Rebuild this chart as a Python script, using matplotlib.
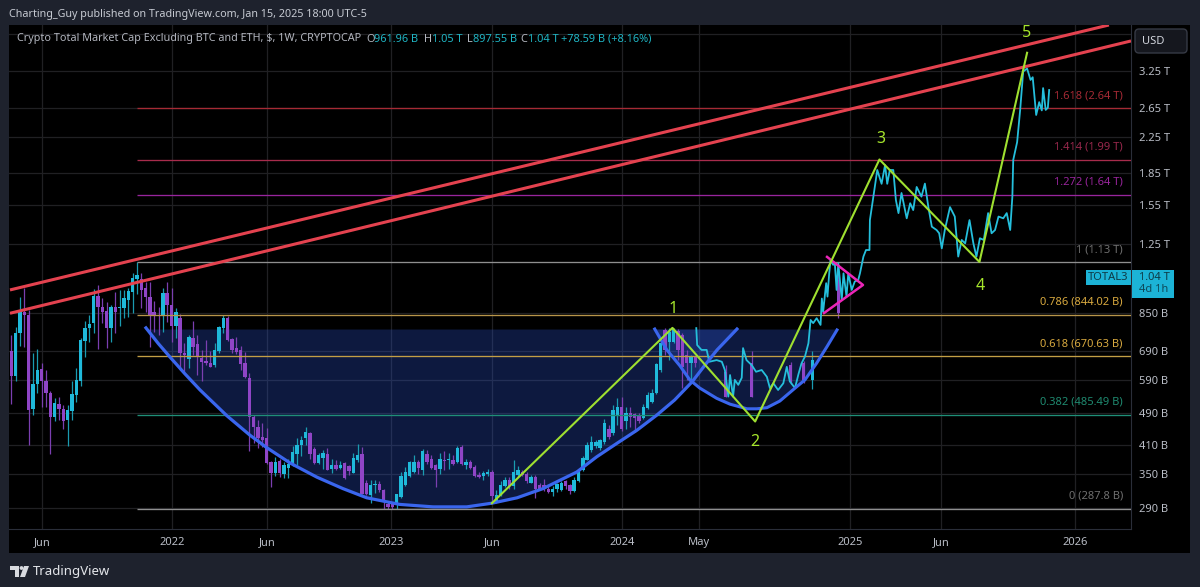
import matplotlib
matplotlib.use("Agg")
import numpy as np
import matplotlib.pyplot as plt
from matplotlib.patches import Rectangle, FancyBboxPatch, Circle, Polygon
from matplotlib.transforms import IdentityTransform

plt.rcParams['font.family'] = ['Noto Sans', 'DejaVu Sans']

# ==========================================
# DATA (weekly candles, values in billions)
# ==========================================
opens = [691,603,761,858,843,502,575,625,586,547,
         481,516,502,472,496,542,586,730,783,806,
         938,882,861,786,882,877,874,915,959,1027,
         1029,977,933,858,843,843,954,889,795,828,
         682,660,741,718,663,653,648,639,689,785,
         829,738,703,695,646,596,480,454,429,427,
         374,352,376,350,361,367,392,411,428,439,
         403,372,383,392,359,369,361,372,365,353,
         379,392,333,311,329,331,321,297,297,295,
         308,329,346,354,374,358,390,381,367,359,
         379,378,378,374,407,367,374,364,348,346,
         351,354,300,311,327,339,327,348,354,351,
         334,345,329,329,323,317,322,320,336,329,
         319,337,358,379,400,409,404,418,450,438,
         485,507,468,490,488,485,476,504,522,547,
         622,776,727,727,773,755,676,645,668]
highs = [755,790,933,977,866,682,698,648,622,554,
         534,537,513,513,584,630,741,817,843,972,
         995,925,907,890,956,968,968,980,1062,1128,
         1062,1013,1013,911,882,977,1013,977,874,846,
         721,755,816,755,695,734,689,722,794,843,
         838,742,746,711,687,612,486,472,464,451,
         376,385,381,374,381,409,428,432,453,441,
         406,393,400,404,381,379,376,374,369,393,
         414,406,339,339,338,336,323,300,298,314,
         354,364,376,389,378,402,400,389,371,393,
         398,393,389,409,411,381,378,367,354,356,
         359,358,320,336,344,344,378,366,358,354,
         348,348,333,340,327,327,333,336,339,331,
         344,359,386,418,432,422,426,474,459,513,
         532,537,508,508,490,490,516,552,559,645,
         727,786,785,786,779,761,695,676,670]
lows = [515,586,712,708,412,484,547,508,508,390,
        470,472,450,409,472,522,568,670,727,762,
        698,806,702,727,762,795,828,835,850,945,
        877,858,708,769,755,769,813,727,744,622,
        616,628,675,605,584,640,632,634,684,764,
        731,684,680,622,596,397,416,405,407,371,
        325,346,344,343,343,366,367,386,411,381,
        370,370,359,357,353,358,359,340,348,352,
        374,313,311,298,315,317,289,289,288,289,
        307,328,345,353,351,348,371,359,326,351,
        358,359,369,372,367,359,359,344,342,339,
        346,300,298,310,326,323,323,345,346,334,
        333,307,320,319,316,310,317,319,323,314,
        317,335,356,378,396,404,400,414,424,434,
        459,444,450,454,442,463,474,501,519,545,
        616,676,657,721,657,563,589,589,634]
closes = [603,761,866,843,499,575,622,584,547,481,
          518,501,468,499,544,587,734,786,801,938,
          882,858,786,882,858,882,925,963,1033,1052,
          968,933,843,837,840,954,889,795,855,682,
          675,748,708,670,651,646,634,695,789,829,
          734,695,687,643,599,480,454,427,422,373,
          353,374,352,367,371,395,411,422,441,391,
          372,389,393,358,369,359,369,342,356,383,
          389,314,314,329,331,320,303,292,292,313,
          346,354,374,374,361,398,374,361,358,381,
          376,381,371,404,371,374,361,346,344,353,
          354,310,311,329,338,327,355,358,348,336,
          345,323,323,323,317,322,331,334,327,319,
          339,358,383,411,418,418,422,465,429,499,
          507,450,490,479,476,468,507,542,549,643,
          721,695,769,779,695,633,645,670,645]

# candles that still show through under the projected line
late_weeks = [165, 171, 180, 183, 185, 191]
late_opens = [615, 645, 640, 645, 589, 1023]
late_highs = [640, 690, 650, 655, 690, 1080]
late_lows = [535, 535, 575, 580, 560, 830]
late_closes = [535, 537, 582, 589, 657, 851]

# projected path, read point by point
line_weeks = [158.2,158.4,159.4,160.6,161.2,162.9,164.1,164.8,165.6,166,166.7,167.1,167.9,168.7,169,169.8,
              171,172,173.3,174.5,175.2,176,177.1,178.3,179.1,179.8,181,181.8,182.5,183.3,184.1,184.6,
              185.2,186,186.9,187.2,187.5,188.2,188.5,188.9,189.2,189.8,190.2,190.6,191,191.8,192.2,192.9,
              193.3,194.1,194.8,195.6,196,196.8,197.4,198.2,198.3,199.1,200,201,201.8,202.3,202.9,203.7,
              204.3,204.9,205.6,206.8,207.6,208.3,209.1,210.2,211,211.8,212.6,213.7,214.3,214.9,215.6,216.8,
              217.9,218.7,219.5,220.3,221.3,222.2,222.9,223.7,224.6,225.6,226.4,227.2,228,229.1,229.9,230.7,
              231.2,231.4,232.3,233,233.7,234.6,235.4,235.9,236.7,237.4,238,238.3,238.9,239.4,239.7]
line_values = [784,714,695,695,651,657,651,622,537,605,537,589,573,596,702,657,
               639,616,622,599,563,578,557,578,633,584,563,608,645,670,721,820,
               806,828,798,923,858,1005,933,1061,1142,1112,1122,968,1122,915,1061,933,
               1061,968,1014,1023,1061,1164,1207,1207,1424,1621,1878,1740,1930,1740,1878,1878,
               1591,1480,1654,1438,1563,1505,1710,1621,1742,1530,1373,1348,1324,1218,1348,1530,
               1452,1164,1276,1252,1424,1252,1164,1288,1276,1480,1324,1348,1452,1438,1480,1348,
               1621,1985,2190,2617,3236,3290,3089,3135,2545,2732,2610,2953,2617,2650,2922]

# fib levels
fib_start = 29
fib_values = [2640, 1990, 1640, 1130, 844.02, 670.63, 485.49, 287.8]
fib_labels = ["1.618 (2.64 T)", "1.414 (1.99 T)", "1.272 (1.64 T)", "1 (1.13 T)",
              "0.786 (844.02 B)", "0.618 (670.63 B)", "0.382 (485.49 B)", "0 (287.8 B)"]
fib_colors = ['#a52a35', '#a82c4c', '#98259c', '#8f8f8f', '#b8954a', '#c39f45', '#1f8f78', '#8f8f8f']
fib_text_colors = ['#a52a35', '#98284c', '#98259c', '#6f6f6f', '#d8a93f', '#d8a93f', '#1f8a70', '#6f6f6f']
fib_label_px = [96, 147, 182, 250, 302, 344, 402, 496]

# elliott wave zigzag
wave_weeks = [111, 152.7, 171.8, 200.5, 223.6, 234.6]
wave_prices = [298, 785, 468, 1990, 1130, 3589]
wave_labels = ["1", "2", "3", "4", "5"]
wave_label_px = [(673, 309), (755, 442), (881, 139), (980, 286), (1027, 33)]

# rounded bottoms
big_cup_weeks = [31.1,33.9,36.6,40.1,43.6,49.8,55.1,59,64.4,70.6,76.6,82.1,89.7,97.4,105.2,111,
                 116.8,122.8,130.6,135.2,139.9,144.5,149.1,153.2,157.2,160.1,163,167.6]
big_cup_prices = [785,721,669,609,557,483,434,405,372,344,323,307,296,292,292,298,
                  307,323,354,385,415,446,485,527,582,637,695,780]
small_cup_weeks = [148.6,151.4,154.4,156.7,159,162.9,166,169.9,172.2,174.5,177.5,180.5,183.3,186,188.4,190.7]
small_cup_prices = [780,695,637,589,563,532,515,502,502,505,524,557,589,646,708,776]
cup_top = 780

# channel lines and triangle
channel_upper = ([-0.3, 253.5], [968, 4184])
channel_lower = ([-0.3, 258.6], [851, 3831])
tri_weeks = [188.4, 196.7, 187.7]
tri_prices = [1162, 995, 852]

# axis ticks
y_ticks = [3250, 2650, 2250, 1850, 1550, 1250, 850, 690, 590, 490, 410, 350, 290]
y_tick_labels = ["3.25 T", "2.65 T", "2.25 T", "1.85 T", "1.55 T", "1.25 T",
                 "850 B", "690 B", "590 B", "490 B", "410 B", "350 B", "290 B"]
x_ticks = [7.1, 37.1, 59.1, 87.7, 111, 141, 158.8, 193.7, 214.7, 245.7]
x_tick_labels = ["Jun", "2022", "Jun", "2023", "Jun", "2024", "May", "2025", "Jun", "2026"]

# ==========================================
# FIGURE SETUP
# ==========================================
W, H = 1200, 587
BG = '#1e222d'
UP = '#1fb9da'
DOWN = '#8f45c6'
UP_WICK = '#1a9bb0'
DOWN_WICK = '#7b3fb0'

fig = plt.figure(figsize=(W / 100, H / 100), dpi=100, facecolor=BG)
px = IdentityTransform()

# black chart panel incl. price and time scale
fig.add_artist(Rectangle((9, H - 553), 1181, 528, transform=px, facecolor='black', edgecolor='none', zorder=-5))

ax = fig.add_axes([9 / W, 1 - 529 / H, (1131 - 9) / W, (529 - 25) / H], facecolor='black')
ax.set_yscale('log')
ax.set_xlim(-0.53, 258.6)
ax.set_ylim(258.4, 4184)

ax.set_yticks(y_ticks + [3980], y_tick_labels + [""])
ax.set_xticks(x_ticks, x_tick_labels)
ax.minorticks_off()
ax.yaxis.tick_right()
ax.tick_params(axis='y', length=0, pad=6, labelsize=8, labelcolor='#b9bdc6')
ax.tick_params(axis='x', length=0, pad=6, labelsize=8, labelcolor='#b9bdc6')
ax.grid(True, color='#202023', linewidth=0.9, zorder=0)
ax.set_axisbelow(True)
for name, spine in ax.spines.items():
    spine.set_visible(name == 'right' or name == 'bottom')
    spine.set_color('#2a2e39')
    spine.set_linewidth(0.8)

# ==========================================
# CUPS
# ==========================================
ax.fill_between(big_cup_weeks, big_cup_prices, cup_top, color='#2a4fc0', alpha=0.33, linewidth=0, zorder=1)
ax.fill_between(small_cup_weeks, small_cup_prices, cup_top, color='#2a4fc0', alpha=0.33, linewidth=0, zorder=1)

# ==========================================
# CANDLES
# ==========================================
def draw_candles(xs, o, h, l, c):
    xs = np.asarray(xs, dtype=float)
    o, h, l, c = [np.asarray(v, dtype=float) for v in (o, h, l, c)]
    up = c >= o
    ax.vlines(xs, l, h, colors=np.where(up, UP_WICK, DOWN_WICK), linewidth=0.9, zorder=3)
    bottom = np.minimum(o, c)
    top = np.maximum(o, c)
    ax.bar(xs, top - bottom, bottom=bottom, width=0.78,
           color=np.where(up, UP, DOWN), linewidth=0, zorder=3)

draw_candles(np.arange(len(opens)), opens, highs, lows, closes)
draw_candles(late_weeks, late_opens, late_highs, late_lows, late_closes)

# fib levels
for value, col in zip(fib_values, fib_colors):
    ax.hlines(value, fib_start, 258.6, color=col, linewidth=0.95, zorder=4)

# projected path
ax.plot(line_weeks, line_values, color='#25bfdc', linewidth=1.3, zorder=5)

# channel, curves, triangle, zigzag
for xs, ys in (channel_upper, channel_lower):
    ax.plot(xs, ys, color='#e4424f', linewidth=2.2, zorder=6, solid_capstyle='butt')
ax.plot(big_cup_weeks, big_cup_prices, color='#3a66ee', linewidth=2.3, zorder=6)
ax.plot(small_cup_weeks, small_cup_prices, color='#3a66ee', linewidth=2.2, zorder=6)
ax.plot(tri_weeks, tri_prices, color='#ec25b8', linewidth=1.8, zorder=7)
ax.plot(wave_weeks, wave_prices, color='#9fe030', linewidth=1.5, zorder=7)

# ==========================================
# TEXT
# ==========================================
def ptext(x, y, s, color, size=8.5, ha='left', va='center', **kw):
    return fig.text(x / W, 1 - y / H, s, color=color, fontsize=size, ha=ha, va=va, **kw)

for lab, (x, y) in zip(wave_labels, wave_label_px):
    ptext(x, y, lab, '#a6e62c', size=11.5, ha='center')

for lab, col, y in zip(fib_labels, fib_text_colors, fib_label_px):
    ptext(1123, y, lab, col, size=8, ha='right')

ptext(9, 14, "Charting_Guy published on TradingView.com, Jan 15, 2025 18:00 UTC-5", '#c6cad2', size=7.75)
ptext(17, 39, "Crypto Total Market Cap Excluding BTC and ETH, $, 1W, CRYPTOCAP", '#b2b5be', size=7.8)

GREY = '#b2b5be'
CY = '#1fb5c4'
legend_parts = [(366, "O", GREY), (374, "961.96 B", CY), (424, "H", GREY), (432, "1.05 T", CY),
                (467, "L", GREY), (473, "897.55 B", CY), (520, "C", GREY), (528, "1.04 T", CY),
                (561, "+78.59 B (+8.16%)", CY)]
for x, s, col in legend_parts:
    ptext(x, 39, s, col, size=7.9)

# USD button
fig.add_artist(FancyBboxPatch((1135, H - 53), 52, 24, boxstyle="round,pad=0,rounding_size=4", transform=px,
                              facecolor='#15171e', edgecolor='#363a45', linewidth=1))
ptext(1142, 41, "USD", '#d1d4dc', size=8)

# last price tag
fig.add_artist(Rectangle((1086, H - 285), 45, 15, transform=px, facecolor='#1cb3d6', edgecolor='none'))
fig.add_artist(Rectangle((1131.5, H - 298), 42, 28, transform=px, facecolor='#1cb3d6', edgecolor='none'))
ptext(1108.5, 277, "TOTAL3", '#0e3a46', size=8, ha='center')
ptext(1139, 277, "1.04 T", '#0e3a46', size=8)
ptext(1139, 290, "4d 1h", '#0e4a5a', size=8)

# TradingView logo
logo = '#d9dbe0'
fig.add_artist(Polygon([(10, H - 566), (19, H - 566), (19, H - 577), (15, H - 577), (15, H - 570), (10, H - 570)],
                       closed=True, transform=px, facecolor=logo, edgecolor='none'))
fig.add_artist(Circle((21.5, H - 568), 1.9, transform=px, facecolor=logo, edgecolor='none'))
fig.add_artist(Polygon([(24, H - 566), (29, H - 566), (25, H - 577), (20, H - 577)],
                       closed=True, transform=px, facecolor=logo, edgecolor='none'))
ptext(33, 571, "TradingView", '#e4e6ea', size=9.5, fontweight='bold')

fig.savefig("out.png", dpi=100, facecolor=fig.get_facecolor())
